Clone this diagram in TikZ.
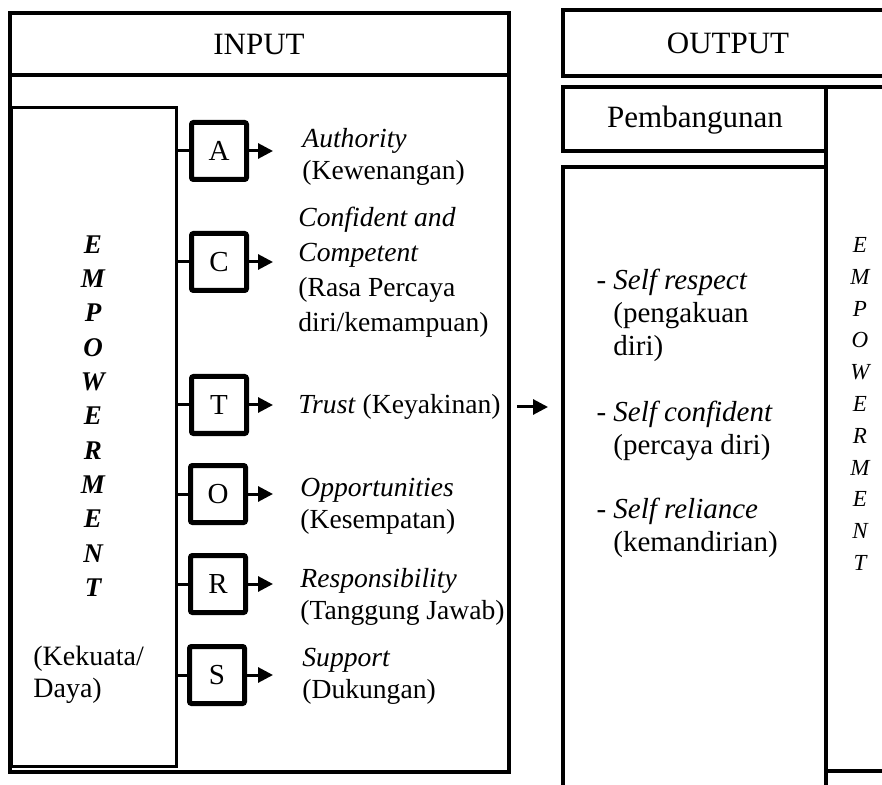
\documentclass[tikz,border=0pt]{standalone}
\usepackage{fontspec}
\setmainfont{Liberation Serif}
\usetikzlibrary{arrows.meta}
\def\bodyfont{\fontsize{13.8}{16}\selectfont}
\def\headfont{\fontsize{15.5}{17}\selectfont}
\tikzset{
	frame/.style={line width=1.6pt},
	letterbox/.style={draw, line width=2.5pt, rounded corners=1pt, minimum width=27.5pt, minimum height=28.5pt, inner sep=0pt, font=\fontsize{14.5}{16}\selectfont},
	link/.style={line width=1.5pt},
	arr/.style={line width=1.5pt, -{Triangle[length=7.5pt,width=7.5pt]}},
	itemtext/.style={anchor=west, align=left, inner sep=0pt, font=\bodyfont},
}

\begin{document}
\begin{tikzpicture}[x=0.5pt, y=-0.5pt]
			%%%%% START %%%%%
			\useasboundingbox (0,0) rectangle (882,785);
			\clip (0,0) rectangle (882,785);
			
			% INPUT side
			\draw[frame] (10,13) rectangle (509,772);
			\draw[frame] (10,75) -- (509,75);
			\node[font=\headfont] (input) at (259,45) {INPUT};
			
			\node[draw, line width=1.6pt, anchor=north west, minimum width=82.5pt, minimum height=329.5pt, inner sep=0pt] (emp) at (10,106) {};
			\node[align=center, inner sep=0pt, font=\fontsize{13.5}{17.15}\selectfont\bfseries\itshape] (empword) at (93,416) {E\\M\\P\\O\\W\\E\\R\\M\\E\\N\\T};
			\node[itemtext, font=\fontsize{14}{16}\selectfont] (power) at (33,675) {(Kekuata/\\Daya)};
			
			\node[letterbox] (A) at (219,151) {A};
			\node[letterbox] (C) at (219,262) {C};
			\node[letterbox] (T) at (219,405) {T};
			\node[letterbox] (O) at (218,494) {O};
			\node[letterbox] (R) at (218,584) {R};
			\node[letterbox] (S) at (217,675) {S};
			
			\draw[link] (emp.east |- A) -- (A);
			\draw[link] (emp.east |- C) -- (C);
			\draw[link] (emp.east |- T) -- (T);
			\draw[link] (emp.east |- O) -- (O);
			\draw[link] (emp.east |- R) -- (R);
			\draw[link] (emp.east |- S) -- (S);
			
			\coordinate (tipx) at (273,0);
			\draw[arr] (A.east) -- (A.east -| tipx);
			\draw[arr] (C.east) -- (C.east -| tipx);
			\draw[arr] (T.east) -- (T.east -| tipx);
			\draw[arr] (O.east) -- (O.east -| tipx);
			\draw[arr] (R.east) -- (R.east -| tipx);
			\draw[arr] (S.east) -- (S.east -| tipx);
			
			\node[itemtext] (authority) at (302,157) {\textit{Authority}\\(Kewenangan)};
			\node[itemtext, font=\fontsize{13.8}{17.5}\selectfont] (confident) at (298,272) {\textit{Confident and}\\\textit{Competent}\\(Rasa Percaya\\diri/kemampuan)};
			\node[itemtext] (trust) at (298,407) {\textit{Trust} (Keyakinan)};
			\node[itemtext] (opport) at (300,506) {\textit{Opportunities}\\(Kesempatan)};
			\node[itemtext] (respons) at (300,597) {\textit{Responsibility}\\(Tanggung Jawab)};
			\node[itemtext] (support) at (302,676) {\textit{Support}\\(Dukungan)};
			
			% between the two sides
			\coordinate (inR) at (517,407);
			\coordinate (outL) at (548,407);
			\draw[arr] (inR) -- (outL);
			
			% OUTPUT side
			\draw[frame] (563,10) rectangle (890,76);
			\node[font=\headfont] (output) at (728,43) {OUTPUT};
			
			\draw[frame] (563,87) rectangle (826,151);
			\node[font=\headfont] (pemb) at (695,120) {Pembangunan};
			
			\draw[frame] (563,167) rectangle (826,800);
			\draw[frame] (826,87) rectangle (890,771);
			
			\node[itemtext, font=\fontsize{14.5}{16.5}\selectfont] (respect) at (613,315) {\llap{-\ }\textit{Self respect}\\(pengakuan\\diri)};
			\node[itemtext, font=\fontsize{14.5}{16.5}\selectfont] (selfconf) at (613,431) {\llap{-\ }\textit{Self confident}\\(percaya diri)};
			\node[itemtext, font=\fontsize{14.5}{16.5}\selectfont] (reliance) at (613,528) {\llap{-\ }\textit{Self reliance}\\(kemandirian)};
			
			\node[align=center, inner sep=0pt, font=\fontsize{11.5}{15.9}\selectfont\itshape] (empout) at (860,404) {E\\M\\P\\O\\W\\E\\R\\M\\E\\N\\T};
			
			%%%%% END %%%%%
\end{tikzpicture}
\end{document}
